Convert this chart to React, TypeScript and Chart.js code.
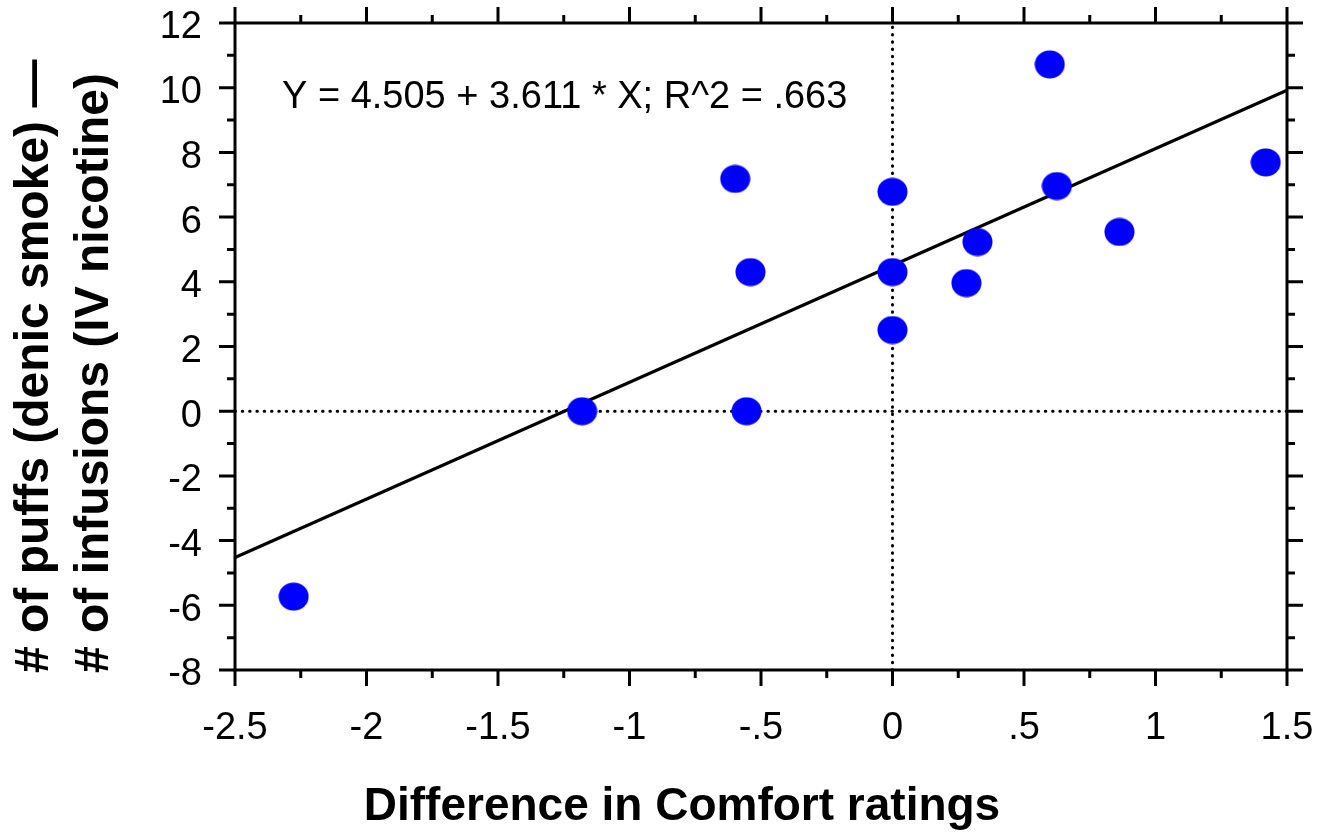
import React, { useEffect, useRef } from 'react';
import { Chart, registerables } from 'chart.js';

Chart.register(...registerables);

// ---- data ----
const xValues = [0.598, -0.598, 1.419, 0, 0.625, 0.323, 0.863, -0.54, 0, 0.281, 0, -1.18, -0.555, -2.277];
const yValues = [10.72, 7.18, 7.69, 6.78, 6.96, 5.23, 5.54, 4.3, 4.3, 3.96, 2.51, 0, 0, -5.73];

const xTickLabels = ['-2.5', '-2', '-1.5', '-1', '-.5', '0', '.5', '1', '1.5'];
const yTickLabels = ['-8', '-6', '-4', '-2', '0', '2', '4', '6', '8', '10', '12'];

const xRange = [-2.5, 1.5];
const yRange = [-8, 12];
const xStep = 0.5;
const yStep = 2;

const fitIntercept = 4.505;
const fitSlope = 3.611;

const equationText = 'Y = 4.505 + 3.611 * X; R^2 = .663';
const xTitle = 'Difference in Comfort ratings';
const yTitleLines = ['# of puffs (denic smoke) \u2014', '# of infusions (IV nicotine)'];

const FONT = '"Liberation Sans", Arial, Helvetica, sans-serif';

function makeDot(): HTMLCanvasElement {
  const c = document.createElement('canvas');
  c.width = 31;
  c.height = 29;
  const g = c.getContext('2d')!;
  g.fillStyle = '#0000ff';
  g.beginPath();
  g.ellipse(15.5, 14.5, 15, 14, 0, 0, Math.PI * 2);
  g.fill();
  return c;
}

const framePlugin = {
  id: 'frame',
  afterDraw(chart: any) {
    const { ctx, chartArea: a, scales } = chart;
    const xs = scales.x;
    const ys = scales.y;
    const major = 16;
    const minor = 8;
    ctx.save();
    ctx.strokeStyle = '#000';
    ctx.lineWidth = 3;
    ctx.lineCap = 'butt';
    ctx.strokeRect(a.left, a.top, a.right - a.left, a.bottom - a.top);

    const xt: number[] = xs.ticks.map((t: any) => t.value);
    const yt: number[] = ys.ticks.map((t: any) => t.value);
    ctx.beginPath();
    xt.forEach((v, i) => {
      const p = xs.getPixelForValue(v);
      ctx.moveTo(p, a.bottom); ctx.lineTo(p, a.bottom + major);
      ctx.moveTo(p, a.top); ctx.lineTo(p, a.top - major);
      if (i < xt.length - 1) {
        const m = xs.getPixelForValue((v + xt[i + 1]) / 2);
        ctx.moveTo(m, a.bottom); ctx.lineTo(m, a.bottom + minor);
        ctx.moveTo(m, a.top); ctx.lineTo(m, a.top - minor);
      }
    });
    yt.forEach((v, i) => {
      const p = ys.getPixelForValue(v);
      ctx.moveTo(a.left, p); ctx.lineTo(a.left - major, p);
      ctx.moveTo(a.right, p); ctx.lineTo(a.right + major, p);
      if (i < yt.length - 1) {
        const m = ys.getPixelForValue((v + yt[i + 1]) / 2);
        ctx.moveTo(a.left, m); ctx.lineTo(a.left - minor, m);
        ctx.moveTo(a.right, m); ctx.lineTo(a.right + minor, m);
      }
    });
    ctx.stroke();

    ctx.fillStyle = '#000';
    ctx.textBaseline = 'alphabetic';
    ctx.textAlign = 'left';
    ctx.font = '38px ' + FONT;
    ctx.fillText(equationText, 282, 108);

    ctx.font = 'bold 46px ' + FONT;
    ctx.textAlign = 'center';
    ctx.fillText(xTitle, 682, 820);

    ctx.font = 'bold 48px ' + FONT;
    ctx.textAlign = 'left';
    const baseX = [48, 108];
    yTitleLines.forEach((line, i) => {
      ctx.save();
      ctx.translate(baseX[i], 673);
      ctx.rotate(-Math.PI / 2);
      ctx.fillText(line, 0, 0);
      ctx.restore();
    });
    ctx.restore();
  },
};

export default function App() {
  const ref = useRef<HTMLCanvasElement | null>(null);
  useEffect(() => {
    if (!ref.current) return;
    const dot = makeDot();
    const points = xValues.map((x, i) => ({ x, y: yValues[i] }));
    const fitLine = xRange.map((x) => ({ x, y: fitIntercept + fitSlope * x }));
    const chart = new Chart(ref.current, {
      type: 'scatter',
      data: {
        datasets: [
          {
            type: 'scatter',
            data: points,
            pointStyle: dot as any,
            pointRadius: 15,
            backgroundColor: '#0000ff',
            borderWidth: 0,
          },
          {
            type: 'line',
            data: fitLine,
            borderColor: '#000',
            borderWidth: 3.2,
            pointRadius: 0,
            fill: false,
          },
          {
            type: 'line',
            data: [{ x: 0, y: yRange[0] }, { x: 0, y: yRange[1] }],
            borderColor: '#000',
            borderWidth: 3,
            borderDash: [0.5, 6.8],
            borderCapStyle: 'round',
            pointRadius: 0,
            fill: false,
          },
          {
            type: 'line',
            data: [{ x: xRange[0], y: 0 }, { x: xRange[1], y: 0 }],
            borderColor: '#000',
            borderWidth: 3,
            borderDash: [0.5, 6.8],
            borderCapStyle: 'round',
            pointRadius: 0,
            fill: false,
          },
        ] as any,
      },
      options: {
        animation: false,
        responsive: true,
        maintainAspectRatio: false,
        layout: { padding: { top: 23, right: 49, left: 0, bottom: 0 } },
        plugins: { legend: { display: false }, tooltip: { enabled: false } },
        scales: {
          x: {
            type: 'linear',
            min: xRange[0],
            max: xRange[1],
            afterFit: (s: any) => {
              s.height = 164;
              s.paddingLeft = 0; s.paddingRight = 0; s.paddingTop = 0; s.paddingBottom = 0;
            },
            ticks: {
              stepSize: xStep,
              padding: 20,
              color: '#000',
              font: { size: 38, family: FONT },
              maxRotation: 0,
              autoSkip: false,
              callback: (_v: any, i: number) => xTickLabels[i],
            },
            grid: { color: 'rgba(0,0,0,0)', drawTicks: true, tickLength: 16 },
            border: { display: false },
          },
          y: {
            type: 'linear',
            min: yRange[0],
            max: yRange[1],
            afterFit: (s: any) => {
              s.width = 235;
              s.paddingLeft = 0; s.paddingRight = 0; s.paddingTop = 0; s.paddingBottom = 0;
            },
            ticks: {
              stepSize: yStep,
              padding: 17,
              labelOffset: 5,
              color: '#000',
              font: { size: 38, family: FONT },
              autoSkip: false,
              callback: (_v: any, i: number) => yTickLabels[i],
            },
            grid: { color: 'rgba(0,0,0,0)', drawTicks: true, tickLength: 16 },
            border: { display: false },
          },
        },
      },
      plugins: [framePlugin],
    });
    return () => chart.destroy();
  }, []);
  return (
    <div style={{ position: 'absolute', left: 0, top: 0, width: 1336, height: 834, background: '#fff' }}>
      <canvas ref={ref} />
    </div>
  );
}
